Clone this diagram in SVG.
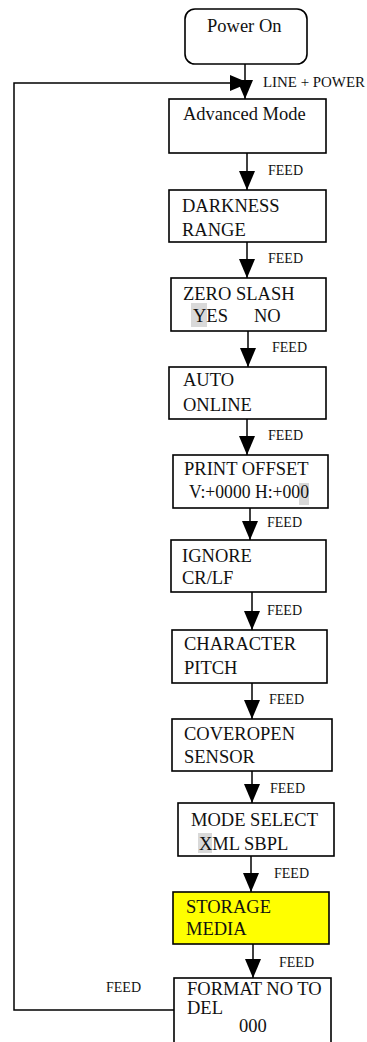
<svg xmlns="http://www.w3.org/2000/svg" width="367" height="1042" viewBox="0 0 367 1042">
<defs>
<style>
.box{fill:#fff;stroke:#000;stroke-width:1.6}
.t{font-family:"Liberation Serif","Times New Roman",serif;font-size:18.5px;fill:#111}
.lbl{font-family:"Liberation Serif","Times New Roman",serif;font-size:14px;fill:#111}
.c{fill:none;stroke:#000;stroke-width:1.5}
.hl{fill:#d9d9d9}
</style>
<marker id="ah" viewBox="0 0 19 16" refX="19" refY="8" markerWidth="19" markerHeight="16" markerUnits="userSpaceOnUse" orient="auto">
<path d="M0,0 L19,8 L0,16 Z" fill="#000"/>
</marker>
</defs>
<rect width="367" height="1042" fill="#fff"/>

<g id="connectors">
<line class="c" x1="245" y1="64" x2="245" y2="99" marker-end="url(#ah)"/>
<path class="c" d="M174,1010 H14 V83 H249" stroke="#444" marker-end="url(#ah)"/>
<line class="c" x1="247" y1="153" x2="247" y2="190" marker-end="url(#ah)"/>
<line class="c" x1="247" y1="242" x2="247" y2="278" marker-end="url(#ah)"/>
<line class="c" x1="248" y1="331" x2="248" y2="367" marker-end="url(#ah)"/>
<line class="c" x1="247" y1="419" x2="247" y2="455" marker-end="url(#ah)"/>
<line class="c" x1="250" y1="508" x2="250" y2="540" stroke="#777" marker-end="url(#ah)"/>
<line class="c" x1="252" y1="592" x2="252" y2="630" marker-end="url(#ah)"/>
<line class="c" x1="252" y1="683" x2="252" y2="719" marker-end="url(#ah)"/>
<line class="c" x1="252" y1="771" x2="252" y2="803" marker-end="url(#ah)"/>
<line class="c" x1="251" y1="856" x2="251" y2="892" marker-end="url(#ah)"/>
<line class="c" x1="253" y1="944" x2="253" y2="978" marker-end="url(#ah)"/>
<text class="lbl" x="263" y="87" textLength="102" lengthAdjust="spacingAndGlyphs">LINE + POWER</text>
<text class="lbl" x="268" y="175">FEED</text>
<text class="lbl" x="268" y="263">FEED</text>
<text class="lbl" x="272" y="352">FEED</text>
<text class="lbl" x="268" y="440">FEED</text>
<text class="lbl" x="267" y="527">FEED</text>
<text class="lbl" x="267" y="615">FEED</text>
<text class="lbl" x="269" y="704">FEED</text>
<text class="lbl" x="270" y="793">FEED</text>
<text class="lbl" x="274" y="878">FEED</text>
<text class="lbl" x="279" y="967">FEED</text>
<text class="lbl" x="106" y="992">FEED</text>
</g>

<g id="power-on">
<rect class="box" x="185" y="9" width="122" height="55" rx="10"/>
<text class="t" x="207" y="32">Power On</text>
</g>
<g id="advanced-mode">
<rect class="box" x="169" y="99" width="157" height="54"/>
<text class="t" x="183" y="120">Advanced Mode</text>
</g>
<g id="darkness-range">
<rect class="box" x="169" y="190" width="157" height="52"/>
<text class="t" x="182" y="212">DARKNESS</text>
<text class="t" x="182" y="236">RANGE</text>
</g>
<g id="zero-slash">
<rect class="box" x="171" y="278" width="155" height="53"/>
<rect class="hl" x="191" y="303" width="16" height="24"/>
<text class="t" x="183" y="300">ZERO SLASH</text>
<text class="t" x="193" y="322">YES</text>
<text class="t" x="254" y="322">NO</text>
</g>
<g id="auto-online">
<rect class="box" x="169" y="367" width="157" height="52"/>
<text class="t" x="183" y="386">AUTO</text>
<text class="t" x="183" y="411">ONLINE</text>
</g>
<g id="print-offset">
<rect class="box" x="173" y="455" width="155" height="53"/>
<rect class="hl" x="299" y="483" width="10" height="22"/>
<text class="t" x="184" y="475">PRINT OFFSET</text>
<text class="t" x="189" y="498" textLength="120" lengthAdjust="spacingAndGlyphs">V:+0000 H:+000</text>
</g>
<g id="ignore-crlf">
<rect class="box" x="171" y="540" width="155" height="52"/>
<text class="t" x="182" y="562">IGNORE</text>
<text class="t" x="182" y="584">CR/LF</text>
</g>
<g id="character-pitch">
<rect class="box" x="172" y="630" width="155" height="53"/>
<text class="t" x="184" y="650">CHARACTER</text>
<text class="t" x="184" y="674">PITCH</text>
</g>
<g id="coveropen-sensor">
<rect class="box" x="172" y="719" width="160" height="52"/>
<text class="t" x="184" y="740">COVEROPEN</text>
<text class="t" x="184" y="763">SENSOR</text>
</g>
<g id="mode-select">
<rect class="box" x="178" y="803" width="156" height="53"/>
<rect class="hl" x="198" y="833" width="14" height="20"/>
<text class="t" x="191" y="826">MODE SELECT</text>
<text class="t" x="199" y="850">XML SBPL</text>
</g>
<g id="storage-media">
<rect class="box" x="173" y="892" width="156" height="52" style="fill:#ffff00"/>
<text class="t" x="186" y="913">STORAGE</text>
<text class="t" x="186" y="935">MEDIA</text>
</g>
<g id="format-no-to-del">
<rect class="box" x="174" y="978" width="157" height="80"/>
<text class="t" x="187" y="995">FORMAT NO TO</text>
<text class="t" x="187" y="1014">DEL</text>
<text class="t" x="239" y="1032">000</text>
</g>
</svg>
